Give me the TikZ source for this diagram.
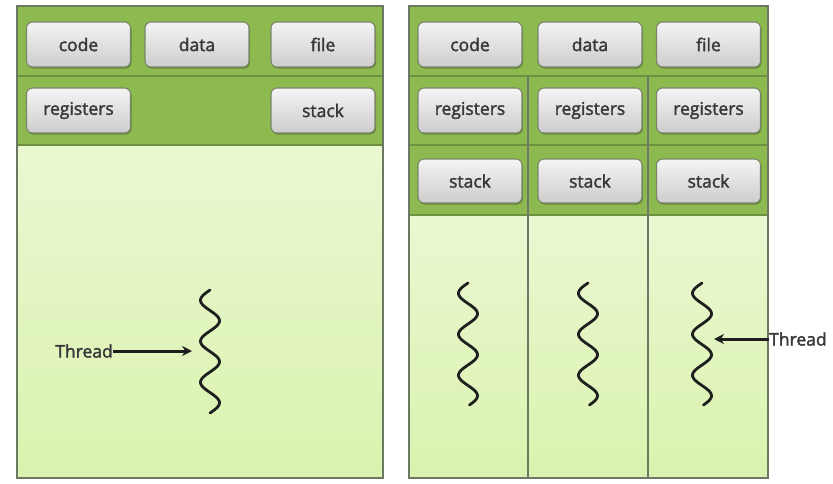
\documentclass[tikz,border=0pt]{standalone}
\usepackage{fontspec}
\setmainfont{Open Sans}
\newfontfamily\heavysans{Open Sans}[RawFeature={embolden=2}]
\usetikzlibrary{arrows.meta,shadows}

\definecolor{hdrgreen}{HTML}{8CBA4E}
\definecolor{frameline}{HTML}{6B7862}
\definecolor{rowline}{HTML}{6E9140}
\definecolor{paletop}{HTML}{EAF8D2}
\definecolor{palebot}{HTML}{DAF2AE}
\definecolor{btnline}{HTML}{7A856C}
\definecolor{btntop}{HTML}{F4F4F4}
\definecolor{btnbot}{HTML}{CDCDCD}
\definecolor{btntext}{HTML}{383838}

\tikzset{
  btn/.style={draw=btnline, line width=1.1pt, rounded corners=6pt,
    top color=btntop, bottom color=btnbot,
    minimum width=104pt, minimum height=45pt, inner sep=0pt,
    font=\heavysans\fontsize{17.5}{20}\selectfont, text=btntext,
    drop shadow={shadow xshift=1pt, shadow yshift=-1.5pt, fill=black, opacity=0.28}},
  frame/.style={draw=frameline, line width=2pt},
  divider/.style={draw=rowline, line width=1.6pt},
  coldivider/.style={draw=frameline, line width=1.6pt},
  wave/.style={line width=2.8pt, line cap=round, draw=black!88},
  threadlbl/.style={inner sep=0pt, font=\heavysans\fontsize{17.5}{20}\selectfont, text=black!78},
  pointer/.style={line width=3pt, draw=black!88, -{Stealth[length=10pt, width=10pt]}},
}

\begin{document}
\begin{tikzpicture}[x=1pt, y=-1pt]
  \useasboundingbox (0,0) rectangle (833,483);
  \fill[white] (0,0) rectangle (833,483);

  % ---------- single-threaded process ----------
  \shade[top color=paletop, bottom color=palebot] (17,145) rectangle (383,478);
  \fill[hdrgreen] (17,6) rectangle (383,145);
  \draw[divider] (17,76) -- (383,76);
  \draw[divider] (17,145) -- (383,145);
  \draw[frame] (17,6) rectangle (383,478);

  \node[btn] (lcode) at (78.5,44.5) {code};
  \node[btn] (ldata) at (197,44.5) {data};
  \node[btn] (lfile) at (323,44.5) {file};
  \node[btn] (lreg)  at (78.5,110.5) {registers};
  \node[btn] (lstack) at (323,110.5) {stack};

  % wavy thread, period 41pt
  \draw[wave] plot[domain=0:123, samples=90, smooth, variable=\t]
    ({210 - 9.5*sin(8.7805*\t)}, {290+\t});
  \node[threadlbl, anchor=east] (lthr) at (113,351) {Thread};
  \coordinate (lwave) at (192,351);
  \draw[pointer] (lthr.east) -- (lwave);

  % ---------- multithreaded process ----------
  \shade[top color=paletop, bottom color=palebot] (409,215) rectangle (768,478);
  \fill[hdrgreen] (409,6) rectangle (768,215);
  \draw[divider] (409,76) -- (768,76);
  \draw[divider] (409,145) -- (768,145);
  \draw[divider] (409,215) -- (768,215);
  \draw[coldivider] (528,76) -- (528,478);
  \draw[coldivider] (648,76) -- (648,478);
  \draw[frame] (409,6) rectangle (768,478);

  \node[btn] (rcode) at (470,44.5) {code};
  \node[btn] (rdata) at (590,44.5) {data};
  \node[btn] (rfile) at (708.5,44.5) {file};
  \node[btn] (rregA) at (470,110.5) {registers};
  \node[btn] (rregB) at (590,110.5) {registers};
  \node[btn] (rregC) at (708.5,110.5) {registers};
  \node[btn, minimum height=44pt] (rstkA) at (470,181) {stack};
  \node[btn, minimum height=44pt] (rstkB) at (590,181) {stack};
  \node[btn, minimum height=44pt] (rstkC) at (708.5,181) {stack};

  \foreach \cx in {468,588,702}
    \draw[wave] plot[domain=0:122, samples=90, smooth, variable=\t]
      ({\cx - 9.5*sin(8.7805*\t)}, {283+\t});
  \node[threadlbl, anchor=west] (rthr) at (769,339) {Thread};
  \coordinate (rwave) at (714,339);
  \draw[pointer] (rthr.west) -- (rwave);
\end{tikzpicture}
\end{document}
